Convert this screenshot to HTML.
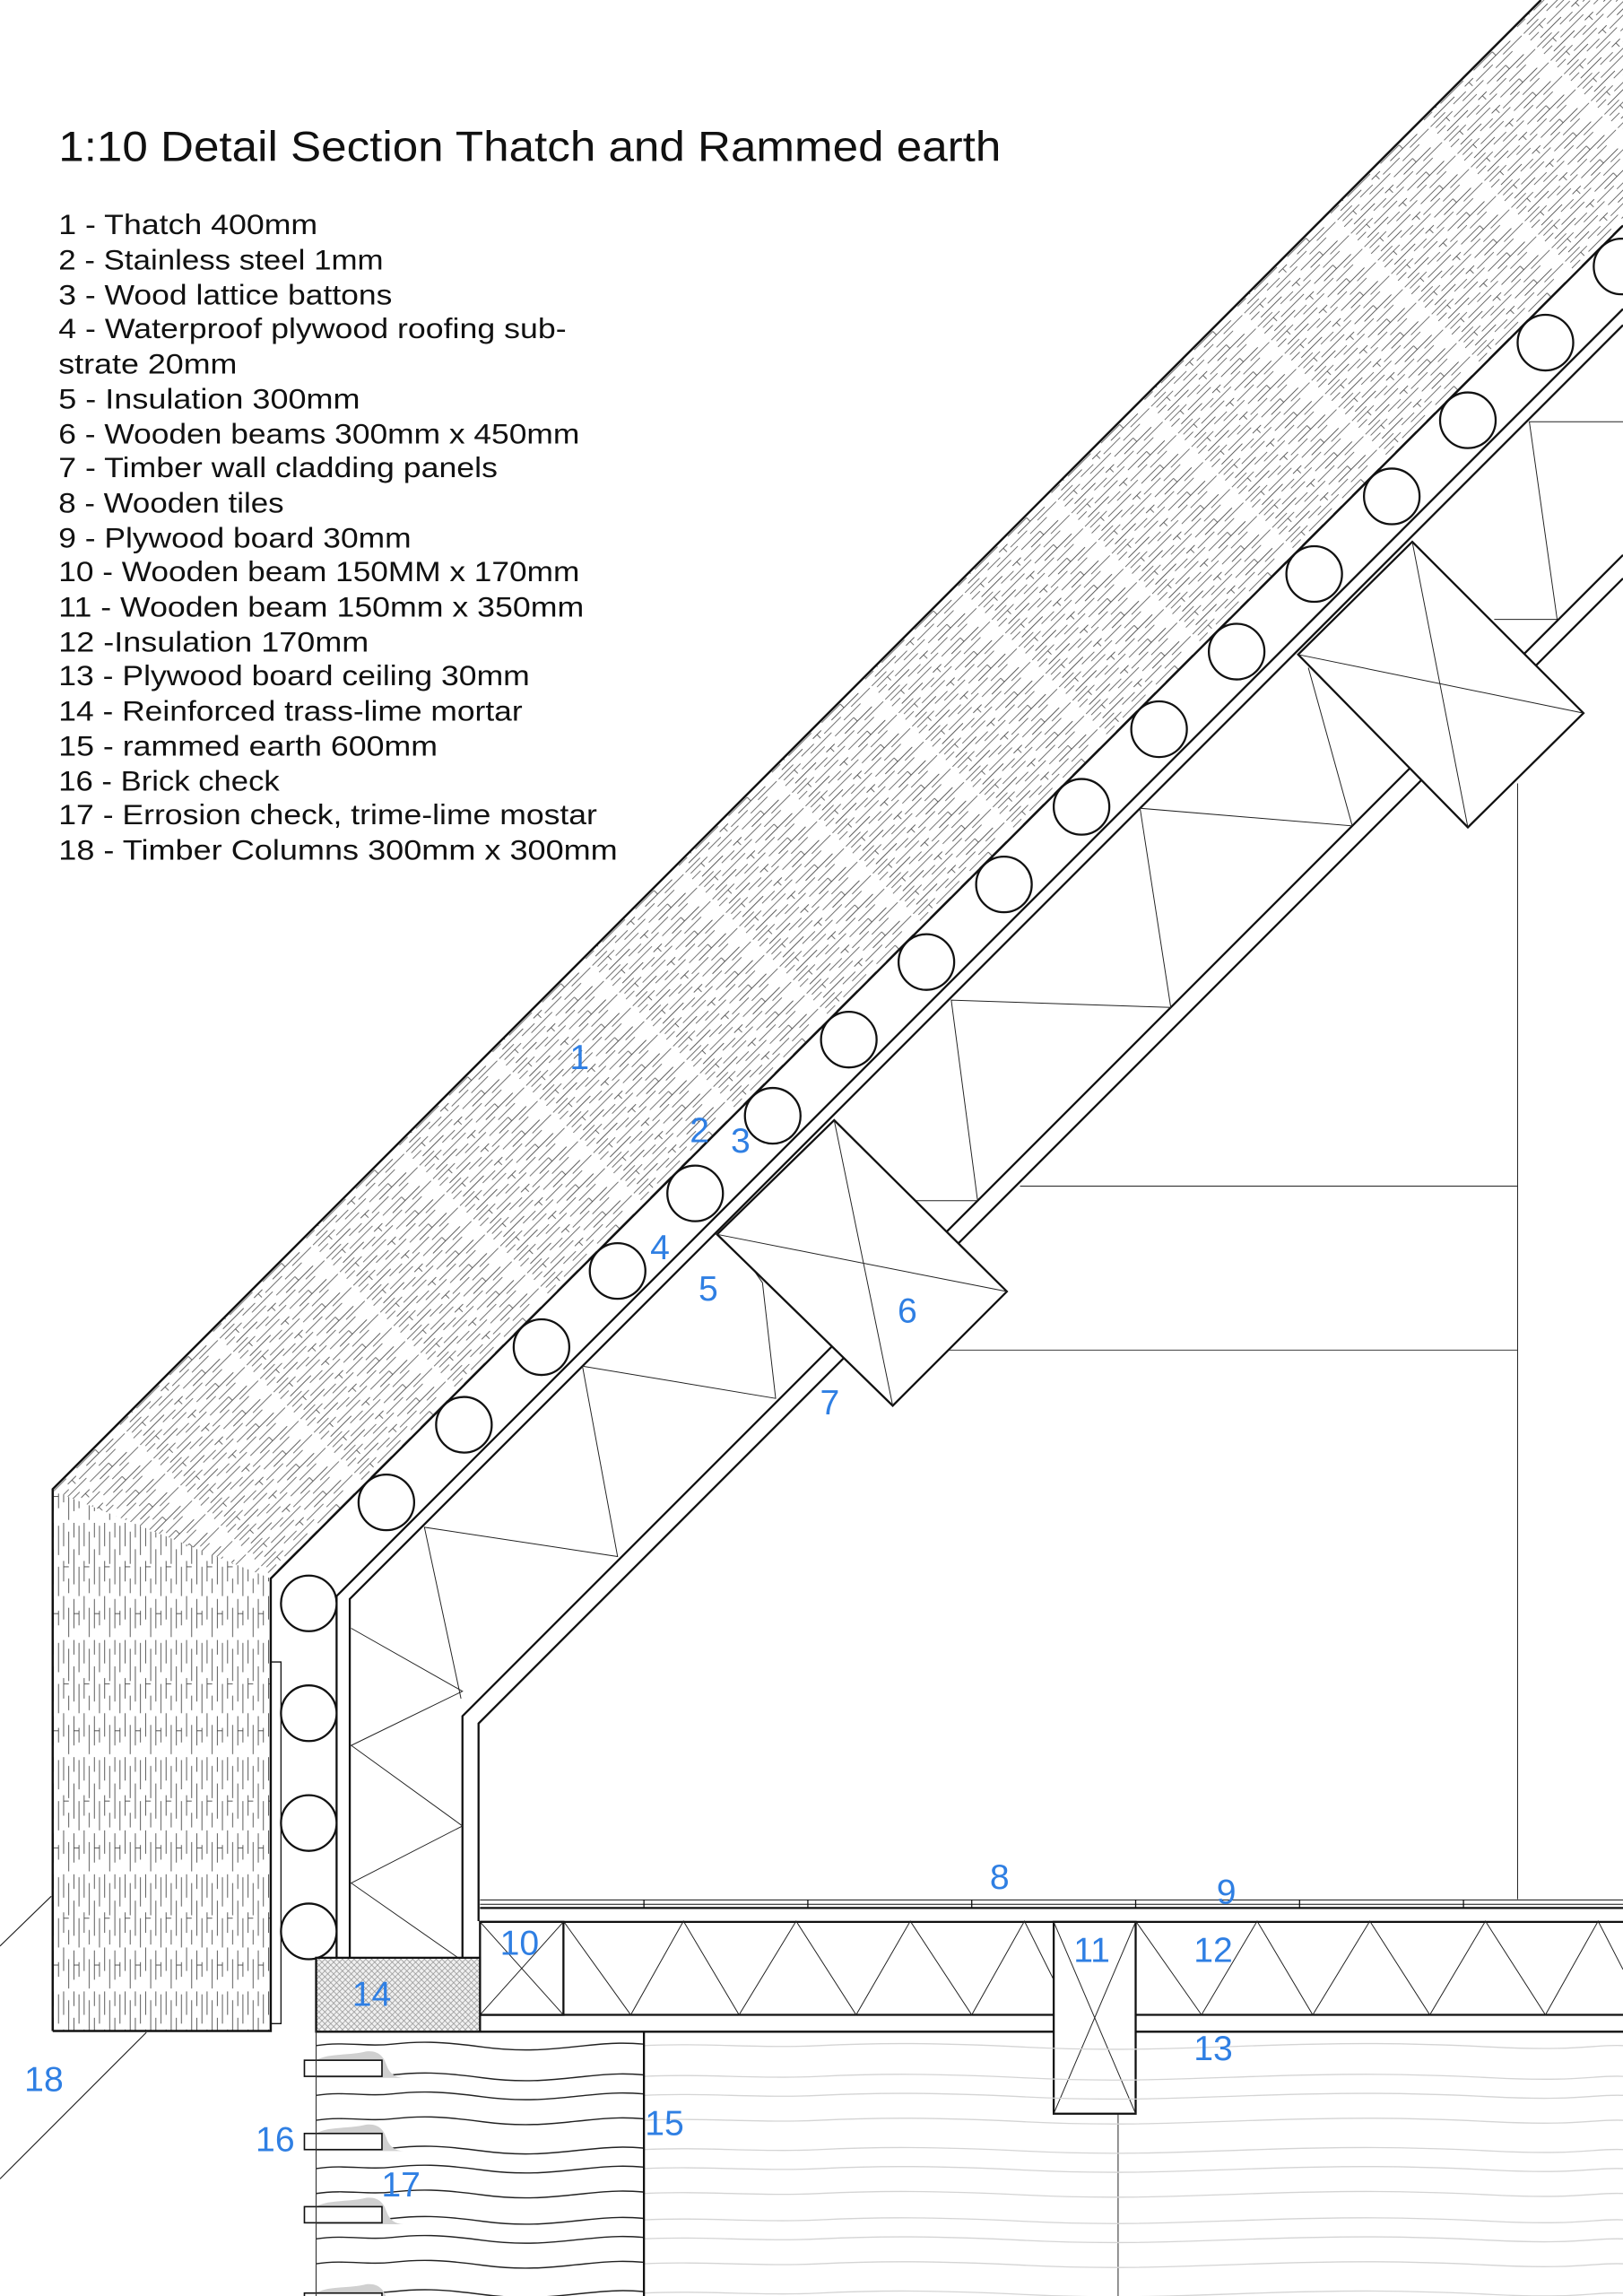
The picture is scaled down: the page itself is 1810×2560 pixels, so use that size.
<!DOCTYPE html>
<html><head><meta charset="utf-8"><style>
html,body{margin:0;padding:0;background:#fff;}
svg{display:block;}
text{font-family:"Liberation Sans",sans-serif;}
.l{fill:#2f7fe3;font-size:24px;text-anchor:middle;}
.t{fill:#111;font-size:19.5px;}
</style></head><body>
<svg xmlns="http://www.w3.org/2000/svg" width="1810" height="2560" viewBox="0 0 1109 1568" preserveAspectRatio="none">
<defs>
<pattern id="th" width="90" height="13" patternUnits="userSpaceOnUse" patternTransform="rotate(-45)">
<g stroke="#444" stroke-width="0.5" fill="none">
<path d="M2,1.5H18M28,1.5H48M60,1.5H76M0,5H8M16,5H38M48,5H66M6,8.5H26M36,8.5H44M54,8.5H80M0,11.5H14M22,11.5H34M44,11.5H60M70,11.5H88M40,8.5V12M12,1.5V5M66,5V8.5"/>
</g></pattern>
<pattern id="tv" width="80" height="14" patternUnits="userSpaceOnUse" patternTransform="rotate(90)">
<g stroke="#444" stroke-width="0.55" fill="none">
<path d="M2,2H22M30,2H50M60,2H70M0,5.5H10M18,5.5H42M52,5.5H72M6,9H28M38,9H48M58,9H78M0,12.5H16M26,12.5H40M50,12.5H66M30,9V12.5M62,2V5.5"/>
</g></pattern>
<pattern id="mx" width="4" height="4" patternUnits="userSpaceOnUse">
<rect width="4" height="4" fill="#f0f0f0"/>
<path d="M0,0L4,4M4,0L0,4" stroke="#8a8a8a" stroke-width="0.4"/>
</pattern>
<path id="wl" d="M216,0 C236,-3 250,1 268,-1 S300,-3 330,1 S380,2 400,0 S428,-2 440,-1" fill="none" stroke="#222" stroke-width="0.9"/>
<path id="wr" d="M440,0 C480,-2 520,2 560,0 S640,-2 700,1 S800,2 860,0 S960,-2 1020,1 S1090,-1 1109,0" fill="none" stroke="#d4d4d4" stroke-width="0.8"/>
<g id="bk">
<path d="M216,1407 C224,1402 238,1404 250,1401 C258,1400 262,1404 264,1410 C266,1416 270,1419 276,1419 L216,1419Z" fill="#d0d0d0"/>
<rect x="208" y="1407" width="53" height="11" fill="#fff" stroke="#111" stroke-width="1"/>
</g>
</defs>
<rect width="1109" height="1568" fill="#fff"/>

<polygon points="36,1018 1053,0 1262,0 185,1078" fill="url(#th)"/>
<polygon points="36,1018 185,1078 185,1387 36,1387" fill="url(#tv)"/>
<g stroke="#111" fill="none" stroke-width="1.5">
<path d="M36,1387V1017L1053,0"/>
<path d="M36,1387H185V1078L1109,154"/>
</g>
<path d="M185,1382H192V1135H185" stroke="#111" stroke-width="0.8" fill="none"/>

<g stroke="#111" fill="none" stroke-width="1.4">
<path d="M230,1337V1090L1109,211"/>
<path d="M239,1337V1092L1109,222"/>
<path d="M316,1337V1172L1109,379"/>
<path d="M327,1312V1177L1109,395"/>
</g>

<g stroke="#222" stroke-width="0.6" fill="none">
<polyline points="240,1112 316,1155 240,1192 316,1247 240,1286 313,1337"/>
<polyline points="315,1160 290,1043 422,1063 398,933 530,955 521,876 507,856"/>
<polyline points="625,820 668,820 650,683 800,688 779,552 924,564 894,456"/>
<polyline points="1021,423 1064,423 1045,288 1109,288"/>
<path d="M697,810H1037M648,922H1037M1037,535V1297"/>
</g>

<g stroke="#111" stroke-width="1.4" fill="#fff">
<circle cx="264" cy="1026" r="19"/><circle cx="317" cy="973" r="19"/><circle cx="370" cy="920" r="19"/><circle cx="422" cy="868" r="19"/><circle cx="475" cy="815" r="19"/><circle cx="528" cy="762" r="19"/><circle cx="580" cy="710" r="19"/><circle cx="633" cy="657" r="19"/><circle cx="686" cy="604" r="19"/><circle cx="739" cy="551" r="19"/><circle cx="792" cy="498" r="19"/><circle cx="845" cy="445" r="19"/><circle cx="898" cy="392" r="19"/><circle cx="951" cy="339" r="19"/><circle cx="1003" cy="287" r="19"/><circle cx="1056" cy="234" r="19"/><circle cx="1108" cy="182" r="19"/>
<circle cx="211" cy="1095" r="19"/><circle cx="211" cy="1170" r="19"/><circle cx="211" cy="1245" r="19"/><circle cx="211" cy="1319" r="19"/>
</g>

<g stroke="#111" stroke-width="1.4" fill="#fff">
<polygon points="570,765 688,882 610,960 490,843"/>
<polygon points="965,370 1082,487 1003,565 887,447"/>
</g>
<g stroke="#222" stroke-width="0.6">
<path d="M570,765L610,960M490,843L688,882M965,370L1003,565M887,447L1082,487"/>
</g>

<g stroke="#111" fill="none">
<path d="M328,1297.5H1109M328,1300.5H1109" stroke-width="0.6"/>
<path d="M440,1297.5V1303M552,1297.5V1303M664,1297.5V1303M776,1297.5V1303M888,1297.5V1303M1000,1297.5V1303" stroke-width="0.8"/>
<path d="M328,1303H1109M328,1312.5H1109M328,1376H720M776,1376H1109M216,1387.5H720M776,1387.5H1109" stroke-width="1.4"/>
</g>
<g stroke="#222" stroke-width="0.6" fill="none">
<polyline points="385,1312 431,1376 467,1312 505,1376 544,1312 585,1376 622,1312 664,1376 700,1312 720,1352"/>
<polyline points="776,1312 821,1376 859,1312 897,1376 936,1312 977,1376 1015,1312 1056,1376 1092,1312 1109,1345"/>
</g>
<rect x="328" y="1312.5" width="57" height="63.5" fill="#fff" stroke="#111" stroke-width="1.4"/>
<path d="M328,1312.5L385,1376M385,1312.5L328,1376" stroke="#222" stroke-width="0.6"/>
<rect x="720" y="1312.5" width="56" height="131" fill="#fff" stroke="#111" stroke-width="1.4"/>
<path d="M720,1312.5L776,1443.5M776,1312.5L720,1443.5" stroke="#222" stroke-width="0.6"/>
<path d="M764,1444V1568" stroke="#222" stroke-width="0.6"/>

<rect x="216" y="1337" width="112" height="50.5" fill="url(#mx)" stroke="#111" stroke-width="1.4"/>

<g>
<use href="#wl" y="1397"/><use href="#wl" y="1418"/><use href="#wl" y="1431"/>
<use href="#wl" y="1448"/><use href="#wl" y="1468"/><use href="#wl" y="1481"/>
<use href="#wl" y="1498"/><use href="#wl" y="1516"/><use href="#wl" y="1529"/>
<use href="#wl" y="1546"/><use href="#wl" y="1566"/>
<use href="#wr" y="1397"/><use href="#wr" y="1418"/><use href="#wr" y="1431"/>
<use href="#wr" y="1448"/><use href="#wr" y="1468"/><use href="#wr" y="1481"/>
<use href="#wr" y="1498"/><use href="#wr" y="1516"/><use href="#wr" y="1529"/>
<use href="#wr" y="1546"/><use href="#wr" y="1566"/>
</g>
<use href="#bk"/><use href="#bk" y="50"/><use href="#bk" y="100"/><use href="#bk" y="159"/>
<path d="M216,1387V1568" stroke="#333" stroke-width="0.7"/>
<path d="M440,1387V1568" stroke="#111" stroke-width="1.4"/>

<path d="M0,1329L35,1295M100,1388L0,1488" stroke="#222" stroke-width="0.7"/>

<text class="l" x="396" y="730">1</text>
<text class="l" x="478" y="780">2</text>
<text class="l" x="506" y="787">3</text>
<text class="l" x="451" y="860">4</text>
<text class="l" x="484" y="888">5</text>
<text class="l" x="620" y="903">6</text>
<text class="l" x="567" y="966">7</text>
<text class="l" x="683" y="1290">8</text>
<text class="l" x="838" y="1300">9</text>
<text class="l" x="355" y="1335">10</text>
<text class="l" x="746" y="1340">11</text>
<text class="l" x="829" y="1340">12</text>
<text class="l" x="829" y="1407">13</text>
<text class="l" x="254" y="1370">14</text>
<text class="l" x="454" y="1458">15</text>
<text class="l" x="188" y="1469">16</text>
<text class="l" x="274" y="1500">17</text>
<text class="l" x="30" y="1428">18</text>

<text x="40" y="110" font-size="29" fill="#111" textLength="644" lengthAdjust="spacingAndGlyphs">1:10 Detail Section Thatch and Rammed earth</text>
<g class="t">
<text class="t" x="40" y="160" textLength="177" lengthAdjust="spacingAndGlyphs">1 - Thatch 400mm</text>
<text class="t" x="40" y="184" textLength="222" lengthAdjust="spacingAndGlyphs">2 - Stainless steel 1mm</text>
<text class="t" x="40" y="208" textLength="228" lengthAdjust="spacingAndGlyphs">3 - Wood lattice battons</text>
<text class="t" x="40" y="231" textLength="347" lengthAdjust="spacingAndGlyphs">4 - Waterproof plywood roofing sub-</text>
<text class="t" x="40" y="255" textLength="122" lengthAdjust="spacingAndGlyphs">strate 20mm</text>
<text class="t" x="40" y="279" textLength="206" lengthAdjust="spacingAndGlyphs">5 - Insulation 300mm</text>
<text class="t" x="40" y="303" textLength="356" lengthAdjust="spacingAndGlyphs">6 - Wooden beams 300mm x 450mm</text>
<text class="t" x="40" y="326" textLength="300" lengthAdjust="spacingAndGlyphs">7 - Timber wall cladding panels</text>
<text class="t" x="40" y="350" textLength="154" lengthAdjust="spacingAndGlyphs">8 - Wooden tiles</text>
<text class="t" x="40" y="374" textLength="241" lengthAdjust="spacingAndGlyphs">9 - Plywood board 30mm</text>
<text class="t" x="40" y="397" textLength="356" lengthAdjust="spacingAndGlyphs">10 - Wooden beam 150MM x 170mm</text>
<text class="t" x="40" y="421" textLength="359" lengthAdjust="spacingAndGlyphs">11 - Wooden beam 150mm x 350mm</text>
<text class="t" x="40" y="445" textLength="212" lengthAdjust="spacingAndGlyphs">12 -Insulation 170mm</text>
<text class="t" x="40" y="468" textLength="322" lengthAdjust="spacingAndGlyphs">13 - Plywood board ceiling 30mm</text>
<text class="t" x="40" y="492" textLength="317" lengthAdjust="spacingAndGlyphs">14 - Reinforced trass-lime mortar</text>
<text class="t" x="40" y="516" textLength="259" lengthAdjust="spacingAndGlyphs">15 - rammed earth 600mm</text>
<text class="t" x="40" y="540" textLength="151" lengthAdjust="spacingAndGlyphs">16 - Brick check</text>
<text class="t" x="40" y="563" textLength="368" lengthAdjust="spacingAndGlyphs">17 - Errosion check, trime-lime mostar</text>
<text class="t" x="40" y="587" textLength="382" lengthAdjust="spacingAndGlyphs">18 - Timber Columns 300mm x 300mm</text>
</g>
</svg>
</body></html>
